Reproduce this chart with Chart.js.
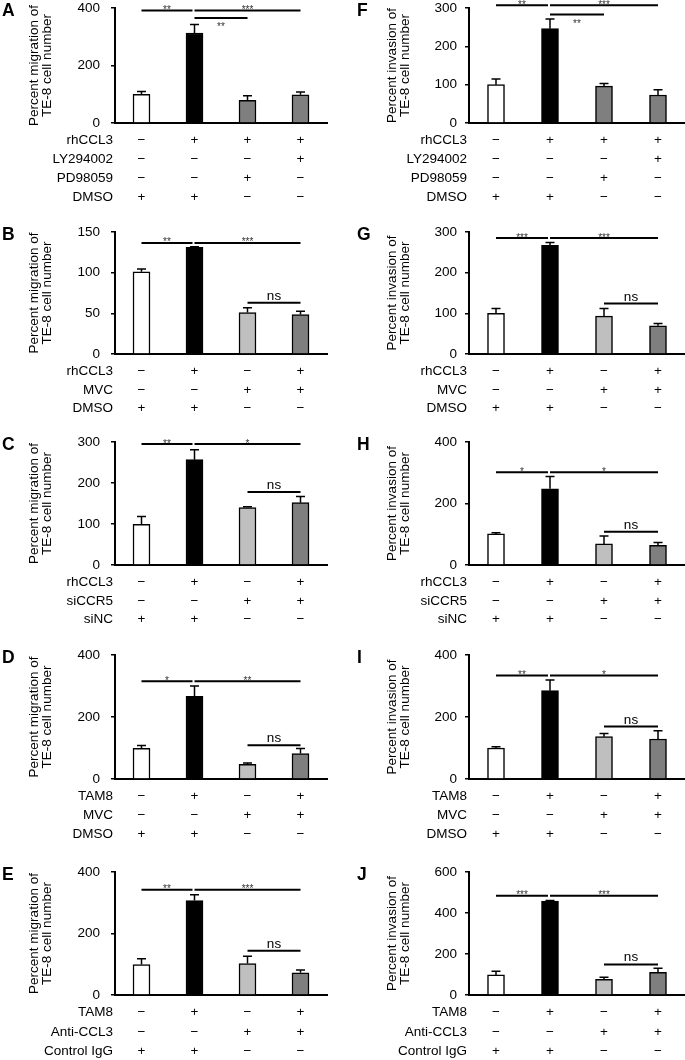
<!DOCTYPE html>
<html>
<head>
<meta charset="utf-8">
<script src="https://cdn.jsdelivr.net/npm/chart.js@4"></script>
<style>
  body { margin: 0; background: #fff; }
  #wrap { position: relative; width: 685px; height: 1060px; overflow: hidden; }
  canvas { position: absolute; }
</style>
</head>
<body>
<div id="wrap"></div>
<script>
// four treatment groups per panel
var groups = ['1', '2', '3', '4'];

// migration (left column), mean and upper error
var migA = [100, 313, 79, 98],   migAErr = [10, 30, 16, 10];
var migB = [101, 131, 51, 48.6], migBErr = [3.5, 1, 6, 4];
var migC = [99.5, 257, 140, 152], migCErr = [18.5, 24, 2, 15];
var migD = [99, 267, 47, 82],    migDErr = [9, 33, 5, 16];
var migE = [99, 307, 102.5, 72], migEErr = [19, 19, 23.5, 9];

// invasion (right column)
var invF = [100, 246, 96, 73],   invFErr = [15, 25, 7, 14];
var invG = [100, 267, 93, 69.5], invGErr = [12, 7, 19, 5.5];
var invH = [101, 248, 68.5, 64], invHErr = [4, 40, 26, 9];
var invI = [100, 285, 136.5, 129], invIErr = [4, 34, 10.5, 27];
var invJ = [98, 458, 77, 111],   invJErr = [18, 3, 10, 20];

// y axis max / step per panel
var axisA = [400, 200], axisB = [150, 50], axisC = [300, 100], axisD = [400, 200], axisE = [400, 200];
var axisF = [300, 100], axisG = [300, 100], axisH = [400, 200], axisI = [400, 200], axisJ = [600, 200];

// significance brackets: [from, to, level, label]
var sigA = [[0, 1, 391, '**'], [1, 3, 391, '***'], [1, 2, 365, '**']];
var sigF = [[0, 1, 307, '**'], [1, 3, 307, '***'], [1, 2, 283, '**']];
var sigB = [[0, 1, 136.5, '**'], [1, 3, 136.5, '***'], [2, 3, 63, 'ns']];
var sigG = [[0, 1, 285, '***'], [1, 3, 285, '***'], [2, 3, 124, 'ns']];
var sigC = [[0, 1, 295, '**'], [1, 3, 295, '*'], [2, 3, 178, 'ns']];
var sigH = [[0, 1, 302, '*'], [1, 3, 302, '*'], [2, 3, 108, 'ns']];
var sigD = [[0, 1, 315, '*'], [1, 3, 315, '**'], [2, 3, 109, 'ns']];
var sigI = [[0, 1, 334, '**'], [1, 3, 334, '*'], [2, 3, 169, 'ns']];
var sigE = [[0, 1, 342, '**'], [1, 3, 342, '***'], [2, 3, 144, 'ns']];
var sigJ = [[0, 1, 484, '***'], [1, 3, 484, '***'], [2, 3, 149, 'ns']];

// treatment tables under the bars
var M = '\u2212', P = '+';
var tabInhib = [['rhCCL3', [M, P, P, P]], ['LY294002', [M, M, M, P]], ['PD98059', [M, M, P, M]], ['DMSO', [P, P, M, M]]];
var tabMvc = [['rhCCL3', [M, P, M, P]], ['MVC', [M, M, P, P]], ['DMSO', [P, P, M, M]]];
var tabSi = [['rhCCL3', [M, P, M, P]], ['siCCR5', [M, M, P, P]], ['siNC', [P, P, M, M]]];
var tabTam = [['TAM8', [M, P, M, P]], ['MVC', [M, M, P, P]], ['DMSO', [P, P, M, M]]];
var tabAnti = [['TAM8', [M, P, M, P]], ['Anti-CCL3', [M, M, P, P]], ['Control IgG', [P, P, M, M]]];

var colorsInhib = ['#ffffff', '#000000', '#7f7f7f', '#7f7f7f'];
var colorsStd = ['#ffffff', '#000000', '#bfbfbf', '#7f7f7f'];

var FONT = '"Liberation Sans", Arial, sans-serif';

// plot area top/bottom of the five rows of panels (page pixels)
var rowsLayout = [
  { plotTop: 8,   plotBot: 123, rowStep: 19 },
  { plotTop: 232, plotBot: 354, rowStep: 18.5 },
  { plotTop: 442, plotBot: 565, rowStep: 18.5 },
  { plotTop: 655, plotBot: 779, rowStep: 19 },
  { plotTop: 872, plotBot: 995, rowStep: 19.3 }
];
var CANVAS_PAD_TOP = 22, CANVAS_PAD_BOT = 90;

var panels = [
  { letter: 'A', col: 0, row: 0, vals: migA, err: migAErr, axis: axisA, sig: sigA, tab: tabInhib, colors: colorsInhib },
  { letter: 'B', col: 0, row: 1, vals: migB, err: migBErr, axis: axisB, sig: sigB, tab: tabMvc, colors: colorsStd },
  { letter: 'C', col: 0, row: 2, vals: migC, err: migCErr, axis: axisC, sig: sigC, tab: tabSi, colors: colorsStd },
  { letter: 'D', col: 0, row: 3, vals: migD, err: migDErr, axis: axisD, sig: sigD, tab: tabTam, colors: colorsStd },
  { letter: 'E', col: 0, row: 4, vals: migE, err: migEErr, axis: axisE, sig: sigE, tab: tabAnti, colors: colorsStd },
  { letter: 'F', col: 1, row: 0, vals: invF, err: invFErr, axis: axisF, sig: sigF, tab: tabInhib, colors: colorsInhib },
  { letter: 'G', col: 1, row: 1, vals: invG, err: invGErr, axis: axisG, sig: sigG, tab: tabMvc, colors: colorsStd },
  { letter: 'H', col: 1, row: 2, vals: invH, err: invHErr, axis: axisH, sig: sigH, tab: tabSi, colors: colorsStd },
  { letter: 'I', col: 1, row: 3, vals: invI, err: invIErr, axis: axisI, sig: sigI, tab: tabTam, colors: colorsStd },
  { letter: 'J', col: 1, row: 4, vals: invJ, err: invJErr, axis: axisJ, sig: sigJ, tab: tabAnti, colors: colorsStd }
];

// error bars, brackets, treatment table and panel letter
var extras = {
  id: 'extras',
  afterDraw: function (chart) {
    var o = chart.options.plugins.extras;
    var ctx = chart.ctx, xs = chart.scales.x, ys = chart.scales.y, area = chart.chartArea;
    ctx.save();
    ctx.strokeStyle = '#000';
    ctx.fillStyle = '#000';

    // error bars (upper only)
    ctx.lineWidth = 1.5;
    o.vals.forEach(function (v, i) {
      var cx = xs.getPixelForValue(i);
      var y0 = ys.getPixelForValue(v);
      var y1 = ys.getPixelForValue(v + o.err[i]);
      ctx.beginPath();
      ctx.moveTo(cx, y0);
      ctx.lineTo(cx, y1);
      ctx.moveTo(cx - 4.5, y1);
      ctx.lineTo(cx + 4.5, y1);
      ctx.stroke();
    });

    // significance brackets
    o.sig.forEach(function (s, k) {
      var xa = xs.getPixelForValue(s[0]);
      var xb = xs.getPixelForValue(s[1]);
      if (s[0] === 0) xb -= 2;
      var yl = ys.getPixelForValue(s[2]);
      ctx.lineWidth = 2;
      ctx.beginPath();
      ctx.moveTo(xa, yl);
      ctx.lineTo(xb, yl);
      ctx.stroke();
      ctx.textAlign = 'center';
      ctx.textBaseline = 'alphabetic';
      var mid = (xa + xb) / 2;
      if (s[3] === 'ns') {
        ctx.fillStyle = '#000';
        ctx.font = '13.5px ' + FONT;
        ctx.fillText('ns', mid, yl - 3);
      } else {
        ctx.fillStyle = '#333';
        ctx.font = '10px ' + FONT;
        var below = (k === 2);
        ctx.fillText(s[3], mid, below ? yl + 12 : yl + 2.5);
      }
    });

    // treatment table
    ctx.fillStyle = '#000';
    ctx.font = '13.5px ' + FONT;
    ctx.textBaseline = 'middle';
    o.tab.forEach(function (r, j) {
      var ry = area.bottom + 17.5 + j * o.rowStep;
      ctx.textAlign = 'right';
      ctx.fillText(r[0], area.left - 2, ry);
      ctx.textAlign = 'center';
      r[1].forEach(function (sign, i) {
        ctx.fillText(sign, xs.getPixelForValue(i), ry);
      });
    });

    // panel letter
    ctx.font = 'bold 17.5px ' + FONT;
    ctx.textAlign = 'left';
    ctx.textBaseline = 'top';
    ctx.fillText(o.letter, o.letterX, area.top - 6);
    ctx.restore();
  }
};

var wrap = document.getElementById('wrap');

panels.forEach(function (p) {
  var lay = rowsLayout[p.row];
  var left = p.col === 0 ? 0 : 342;
  var width = p.col === 0 ? 342 : 343;
  var axisW = p.col === 0 ? 115 : 127;
  var top = lay.plotTop - CANVAS_PAD_TOP;
  var h = lay.plotBot - lay.plotTop + CANVAS_PAD_TOP + CANVAS_PAD_BOT;
  var cv = document.createElement('canvas');
  cv.width = width;
  cv.height = h;
  cv.style.left = left + 'px';
  cv.style.top = top + 'px';
  cv.style.width = width + 'px';
  cv.style.height = h + 'px';
  wrap.appendChild(cv);

  var title = p.col === 0
    ? ['Percent migration of', 'TE-8 cell number']
    : ['Percent invasion of', 'TE-8 cell number'];

  new Chart(cv.getContext('2d'), {
    type: 'bar',
    data: {
      labels: groups,
      datasets: [{
        data: p.vals,
        backgroundColor: p.colors,
        borderColor: '#000',
        borderWidth: 1.5,
        barThickness: 17
      }]
    },
    options: {
      responsive: false,
      animation: false,
      devicePixelRatio: 1,
      layout: {
        padding: {
          left: 0,
          right: p.col === 0 ? 15 : 0,
          top: CANVAS_PAD_TOP,
          bottom: CANVAS_PAD_BOT
        }
      },
      scales: {
        x: {
          grid: { display: false },
          border: { display: true, color: '#000', width: 2 },
          ticks: { display: false },
          afterFit: function (s) { s.height = 0; }
        },
        y: {
          min: 0,
          max: p.axis[0],
          ticks: {
            stepSize: p.axis[1],
            color: '#000',
            padding: p.col === 0 ? 11 : 8,
            font: { family: FONT, size: 13.5 }
          },
          grid: { drawOnChartArea: false, color: '#000', lineWidth: 1.5, tickLength: 4 },
          border: { color: '#000', width: 2 },
          title: {
            display: true,
            text: title,
            color: '#000',
            font: { family: FONT, size: 13.5, lineHeight: 0.97 },
            padding: { top: p.col === 0 ? 28 : 44, bottom: 0 }
          },
          afterFit: function (s) { s.width = axisW; }
        }
      },
      plugins: {
        legend: { display: false },
        tooltip: { enabled: false },
        extras: {
          vals: p.vals,
          err: p.err,
          sig: p.sig,
          tab: p.tab,
          rowStep: lay.rowStep,
          letter: p.letter,
          letterX: p.col === 0 ? 2 : 15
        }
      }
    },
    plugins: [extras]
  });
});
</script>
</body>
</html>
